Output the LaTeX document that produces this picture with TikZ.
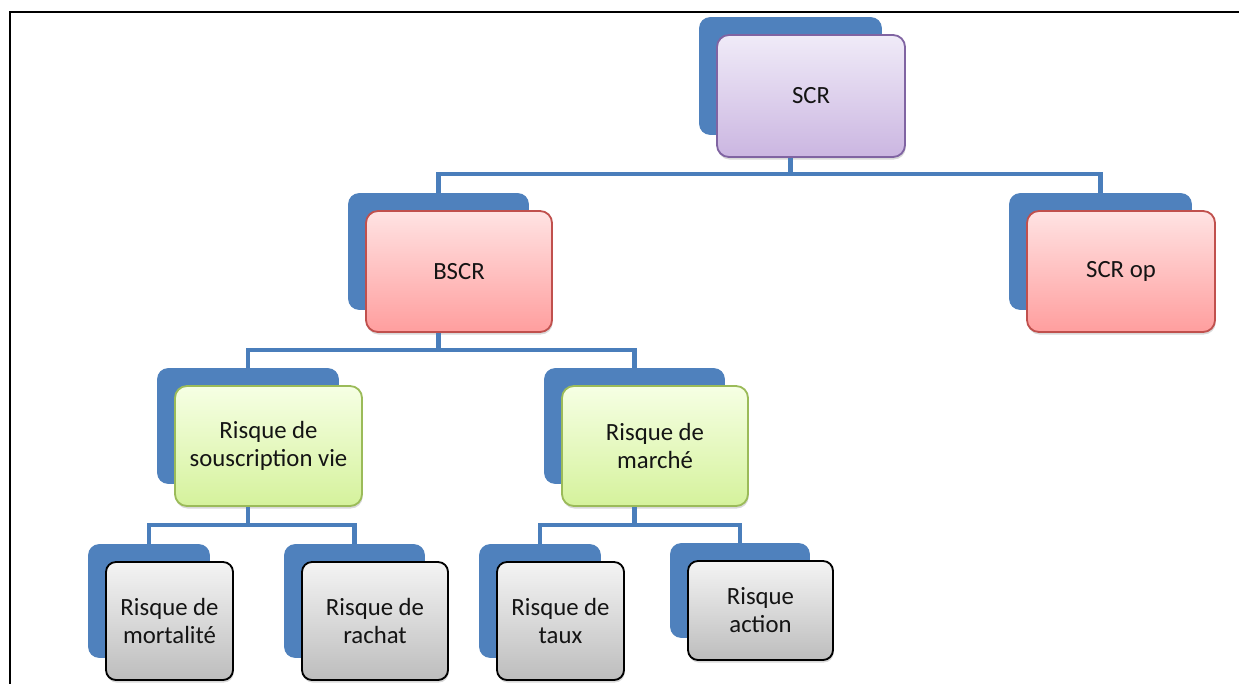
\documentclass[tikz,border=0pt]{standalone}
\usepackage{fontspec}
\setmainfont{Carlito}
\usetikzlibrary{backgrounds,shadows}
\definecolor{blockblue}{HTML}{4F81BD}
\definecolor{linkblue}{HTML}{4A7EBB}
\definecolor{scrtop}{HTML}{F0EBF8}
\definecolor{scrbottom}{HTML}{CBB6E1}
\definecolor{scrdraw}{HTML}{8064A2}
\definecolor{redtop}{HTML}{FFE3E3}
\definecolor{redbottom}{HTML}{FF9E9E}
\definecolor{reddraw}{HTML}{C0504D}
\definecolor{greentop}{HTML}{F6FFE4}
\definecolor{greenbottom}{HTML}{D5F29C}
\definecolor{greendraw}{HTML}{9BBB59}
\definecolor{graytop}{HTML}{F4F4F4}
\definecolor{graybottom}{HTML}{BDBDBD}

\begin{document}
\begin{tikzpicture}[x=0.025cm, y=-0.025cm]
\tikzset{
    mybox/.style={rectangle, rounded corners=0.3cm, line width=1.3pt, inner sep=2pt, align=center, text=black!92, font=\fontsize{17.6}{19.9}\selectfont, drop shadow={shadow xshift=0.5pt, shadow yshift=-1.8pt, opacity=0.3}},
    myscr/.style={mybox, draw=scrdraw, top color=scrtop, bottom color=scrbottom},
    myred/.style={mybox, draw=reddraw, top color=redtop, bottom color=redbottom},
    mygreen/.style={mybox, draw=greendraw, top color=greentop, bottom color=greenbottom},
    mygray/.style={mybox, rounded corners=0.25cm, draw=black, top color=graytop, bottom color=graybottom},
    myback/.style={fill=blockblue, rounded corners=0.28cm},
    mylink/.style={draw=linkblue, line width=2.9pt}
}
\useasboundingbox (0,0) rectangle (1239,684);
\draw[line width=0.07cm] (10,684) -- (10,12) -- (1239,12);

\node[myscr, minimum width=4.7cm, minimum height=3.05cm] (scr) at (811,96) {SCR};
\node[myred, minimum width=4.65cm, minimum height=3.025cm] (bscr) at (459,271.5) {BSCR};
\node[myred, minimum width=4.7cm, minimum height=3.025cm] (scrop) at (1121,271.5) {SCR op};
\node[mygreen, minimum width=4.675cm, minimum height=3cm] (souscr) at (268.5,446) {Risque de\\souscription vie};
\node[mygreen, minimum width=4.65cm, minimum height=3cm] (marche) at (655,446) {Risque de\\march\'e};
\node[mygray, minimum width=3.175cm, minimum height=2.95cm] (mort) at (169.5,621) {Risque de\\mortalit\'e};
\node[mygray, minimum width=3.65cm, minimum height=2.95cm] (rachat) at (375,621) {Risque de\\rachat};
\node[mygray, minimum width=3.175cm, minimum height=2.95cm] (taux) at (560.5,621) {Risque de\\taux};
\node[mygray, minimum width=3.625cm, minimum height=2.475cm] (action) at (760.5,610.5) {Risque\\action};

% blue plates behind every box
\begin{scope}[on background layer]
\foreach \n in {scr,bscr,scrop,souscr,marche,mort,rachat,taux,action}{
    \fill[myback] ([shift={(-17,-17)}]\n.north west) rectangle ([shift={(-24,-23)}]\n.south east);
    \coordinate (\n-top) at ([shift={(-20.5,-17)}]\n.north);
}
\end{scope}

\coordinate (bus1) at (0,174);
\coordinate (bus2) at (0,350);
\coordinate (bus3) at (0,525);

\draw[mylink] (scr.south -| scr-top) -- (scr-top |- bus1);
\draw[mylink] (bscr-top) |- (scrop-top |- bus1) -- (scrop-top);

\draw[mylink] (bscr.south -| bscr-top) -- (bscr-top |- bus2);
\draw[mylink] (souscr-top) |- (marche-top |- bus2) -- (marche-top);

\draw[mylink] (souscr.south -| souscr-top) -- (souscr-top |- bus3);
\draw[mylink] (mort-top) |- (rachat-top |- bus3) -- (rachat-top);

\draw[mylink] (marche.south -| marche-top) -- (marche-top |- bus3);
\draw[mylink] (taux-top) |- (action-top |- bus3) -- (action-top);
% the lower rows share the same bus height

\end{tikzpicture}
\end{document}
